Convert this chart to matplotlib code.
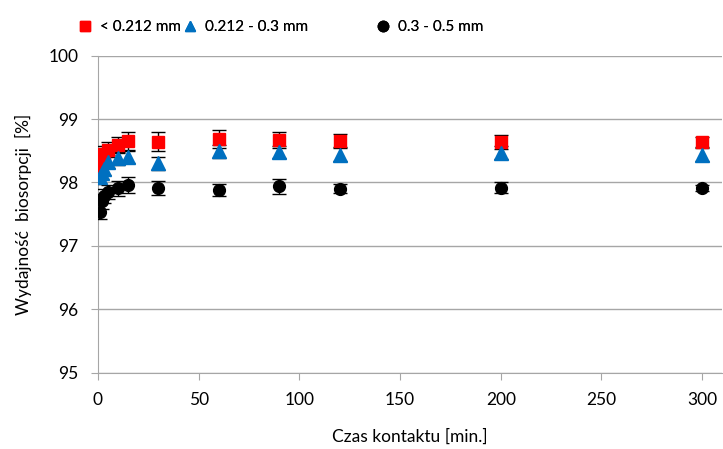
import matplotlib.pyplot as plt
from matplotlib.lines import Line2D

plt.rcParams['font.family'] = ['Lato', 'DejaVu Sans']

# contact time [min]
czas = [1, 2, 3, 5, 10, 15, 30, 60, 90, 120, 200, 300]

# biosorption yield [%] per particle fraction
frakcja_1 = [98.22, 98.36, 98.45, 98.52, 98.59, 98.65, 98.64, 98.69, 98.67, 98.66, 98.64, 98.64]
frakcja_2 = [98.08, 98.15, 98.22, 98.33, 98.38, 98.40, 98.30, 98.49, 98.48, 98.44, 98.47, 98.44]
frakcja_3 = [97.54, 97.70, 97.78, 97.85, 97.91, 97.96, 97.91, 97.88, 97.94, 97.90, 97.92, 97.91]

blad_1 = [0.12, 0.12, 0.12, 0.12, 0.13, 0.14, 0.15, 0.14, 0.13, 0.10, 0.11, 0.08]
blad_2 = [0.10, 0.10, 0.10, 0.10, 0.10, 0.10, 0.10, 0.10, 0.10, 0.10, 0.10, 0.10]
blad_3 = [0.12, 0.12, 0.11, 0.11, 0.12, 0.13, 0.11, 0.10, 0.12, 0.07, 0.09, 0.05]

etykiety = ['< 0.212 mm', '0.212 - 0.3 mm', '0.3 - 0.5 mm']
kolory = ['#ff0000', '#0070c0', '#000000']
markery = ['s', '^', 'o']
rozmiary = [8.5, 10.5, 8.5]

fig = plt.figure(figsize=(7.23, 4.49), dpi=100)
ax = fig.add_axes([0.1355, 0.170, 0.8635, 0.706])

serie = [frakcja_1, frakcja_2, frakcja_3]
bledy = [blad_1, blad_2, blad_3]
for y, err, kol, mk, ms in zip(serie, bledy, kolory, markery, rozmiary):
    ax.errorbar(czas, y, yerr=err, fmt=mk, color=kol, ms=ms, mec=kol,
                ecolor='black', elinewidth=1, capsize=5, capthick=1, zorder=3)

ax.set_xlim(0, 310)
ax.set_ylim(95, 100)
ax.set_xticks(range(0, 301, 50))
ax.set_yticks(range(95, 101))
ax.grid(axis='y', color='#a6a6a6', lw=1)
ax.set_axisbelow(True)
for s in ['top', 'right']:
    ax.spines[s].set_visible(False)
for s in ['left', 'bottom']:
    ax.spines[s].set_color('#a6a6a6')
ax.tick_params(colors='#a6a6a6', labelcolor='black', labelsize=12.5, length=5)
ax.tick_params(axis='x', pad=9)
ax.tick_params(axis='y', pad=9)

ax.set_xlabel('Czas kontaktu [min.]', fontsize=12.5, labelpad=15)
ax.set_ylabel('Wydajność  biosorpcji  [%]', fontsize=12.5, labelpad=12)

# legend entries placed separately along the top
pozycje = [0.098, 0.244, 0.511]
for lab, kol, mk, x in zip(etykiety, kolory, markery, pozycje):
    h = Line2D([], [], ls='none', marker=mk, color=kol, ms=7.5)
    leg = fig.legend(handles=[h], labels=[lab], loc='center left',
                     bbox_to_anchor=(x, 0.940), frameon=False, fontsize=11,
                     handlelength=0.8, handletextpad=0.6, borderpad=0)
    fig.add_artist(leg)

fig.savefig('out.png', dpi=100)
